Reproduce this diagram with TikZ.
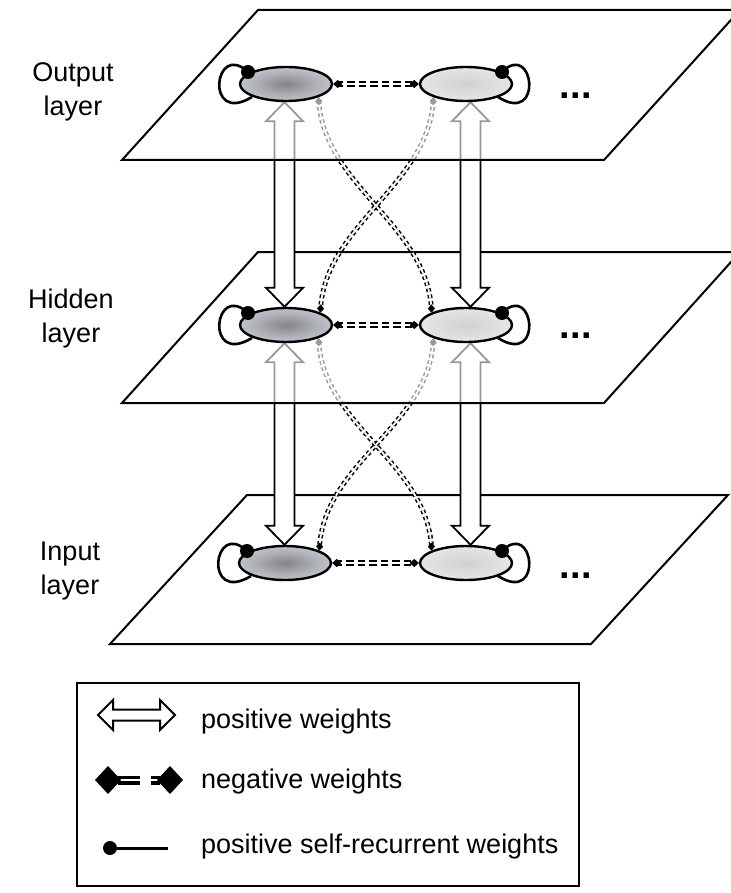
\documentclass[tikz,border=0pt]{standalone}
\usepackage{fontspec}
\setmainfont{Liberation Sans}
\usetikzlibrary{arrows.meta,calc,shapes.geometric}
\pgfdeclareradialshading{ballL}{\pgfpoint{0bp}{0bp}}{rgb(0bp)=(0.52,0.52,0.52); rgb(16bp)=(0.68,0.69,0.71); rgb(38bp)=(0.84,0.87,0.92); rgb(50bp)=(0.86,0.90,0.96)}
\pgfdeclareradialshading{ballR}{\pgfpoint{0bp}{0bp}}{rgb(0bp)=(0.82,0.82,0.82); rgb(25bp)=(0.90,0.90,0.90); rgb(50bp)=(0.97,0.97,0.97)}
\pgfdeclarelayer{pA}\pgfdeclarelayer{cA}\pgfdeclarelayer{pB}\pgfdeclarelayer{cB}\pgfdeclarelayer{pC}\pgfdeclarelayer{lp}
\pgfsetlayers{pA,cA,pB,cB,pC,lp,main}
% hollow double arrow between two nodes (vertical)
\newcommand\posarr[3]{\draw[posarrow] let \p1=($(#1.south)+(#3,0)$), \p2=(#2.north) in
  (\x1,\y1) -- ++(18.5,19) -- ++(-8.5,0) -- (\x1+10pt,\y2+19pt) -- ++(8.5,0) -- (\x1,\y2)
  -- ++(-18.5,-19) -- ++(8.5,0) -- (\x1-10pt,\y1-19pt) -- ++(-8.5,0) -- cycle;}
\newcommand\selfloopL[1]{\draw[loopln] ($(#1)+(-38,-12)$) .. controls ($(#1)+(-72,-44)$) and ($(#1)+(-82,42)$) .. ($(#1)+(-34,13)$);}
\newcommand\selfloopR[1]{\draw[loopln] ($(#1)+(36,-12)$) .. controls ($(#1)+(68,-44)$) and ($(#1)+(78,42)$) .. ($(#1)+(32,13)$);}
\newcommand\dotL[1]{\fill ($(#1)+(-38,-12)$) circle[radius=7pt];}
\newcommand\dotR[1]{\fill ($(#1)+(36,-12)$) circle[radius=7pt];}
\begin{document}
\begin{tikzpicture}[x=1pt,y=-1pt,
  neuron/.style={ellipse, draw, line width=2.4pt, minimum width=92pt, minimum height=34pt, inner sep=0pt},
  nL/.style={neuron, shading=ballL},
  nR/.style={neuron, shading=ballR},
  plane/.style={draw, line width=2pt, fill=white, line join=miter},
  veil/.style={plane, fill opacity=0.6},
  posarrow/.style={draw, line width=1.8pt, fill=white, line join=miter},
  negcross/.style={double=white, double distance=1.8pt, line width=1.5pt, dash pattern=on 3.5pt off 3pt,
     {Diamond[length=8pt,width=7pt,line width=0.4pt]}-{Diamond[length=8pt,width=7pt,line width=0.4pt]}},
  neghor/.style={double=white, double distance=2.2pt, line width=2.1pt, dash pattern=on 7.5pt off 4pt,
     {Diamond[length=9pt,width=8pt,line width=0.4pt]}-{Diamond[length=9pt,width=8pt,line width=0.4pt]}},
  loopln/.style={line width=2.6pt},
  lbl/.style={font=\fontsize{27}{30}\selectfont, anchor=base, inner sep=0pt},
  lgd/.style={font=\fontsize{27}{30}\selectfont, anchor=base west, inner sep=0pt},
  more/.style={font=\bfseries\fontsize{38}{40}\selectfont, anchor=base west, inner sep=0pt}
]
\useasboundingbox (0,0) rectangle (730,893);
\clip (0,0) rectangle (730,893);

% neurons
\node[nL] (o1) at (286,84) {};
\node[nR] (o2) at (466,84) {};
\node[nL] (h1) at (286,325) {};
\node[nR] (h2) at (466,325) {};
\node[nL] (i1) at (285,563) {};
\node[nR] (i2) at (466,563) {};

% planes and inter-layer connectors
\begin{pgfonlayer}{pA}
  \draw[plane] (247,495) -- (728,495) -- (591,644) -- (110,644) -- cycle;
\end{pgfonlayer}
\begin{pgfonlayer}{cA}
  \posarr{h1}{i1}{-1.5}
  \posarr{h2}{i2}{4.5}
  \draw[negcross] (h1.-22) .. controls +(5,88) and +(-5,-88) .. (i2.160);
  \draw[negcross] (h2.-158) .. controls +(-5,88) and +(5,-88) .. (i1.20);
\end{pgfonlayer}
\begin{pgfonlayer}{pB}
  \draw[veil] (258,252) -- (740,252) -- (604,403) -- (122,403) -- cycle;
\end{pgfonlayer}
\begin{pgfonlayer}{cB}
  \posarr{o1}{h1}{-1.5}
  \posarr{o2}{h2}{4.5}
  \draw[negcross] (o1.-22) .. controls +(5,88) and +(-5,-88) .. (h2.160);
  \draw[negcross] (o2.-158) .. controls +(-5,88) and +(5,-88) .. (h1.20);
\end{pgfonlayer}
\begin{pgfonlayer}{pC}
  \draw[veil] (258,10) -- (740,10) -- (604,160) -- (122,160) -- cycle;
\end{pgfonlayer}
\begin{pgfonlayer}{lp}
  \selfloopL{o1}\selfloopR{o2}
  \selfloopL{h1}\selfloopR{h2}
  \selfloopL{i1}\selfloopR{i2}
\end{pgfonlayer}

% dots of self-recurrent connections
\dotL{o1}\dotR{o2}\dotL{h1}\dotR{h2}\dotL{i1}\dotR{i2}

% lateral negative connections
\draw[neghor] (o1.east) -- (o2.west);
\draw[neghor] (h1.east) -- (h2.west);
\draw[neghor] (i1.east) -- (i2.west);

% ellipsis
\node[more] (m1) at (559.7,98.7) {...};
\node[more] (m2) at (559.7,338.7) {...};
\node[more] (m3) at (559.7,578.7) {...};

% layer labels
\node[lbl] (lo1) at (73,82) {Output};
\node[lbl] (lo2) at (73,116) {layer};
\node[lbl] (lh1) at (71,308) {Hidden};
\node[lbl] (lh2) at (71,342) {layer};
\node[lbl] (li1) at (70,560) {Input};
\node[lbl] (li2) at (70,594) {layer};

% legend
\draw[line width=1.8pt] (77,683) rectangle (579,886);
\draw[line width=2pt, line join=miter, fill=white] (98,715) -- (113,700) -- (113,709.5) -- (160,709.5) -- (160,700) -- (175,715)
  -- (160,730) -- (160,720.5) -- (113,720.5) -- (113,730) -- cycle;
\fill (95,780) -- (108,766) -- (121,780) -- (108,794) -- cycle;
\fill (157,780) -- (170,766) -- (183,780) -- (170,794) -- cycle;
\fill (118,775.5) rectangle (140,778.6);
\fill (118,781.4) rectangle (140,784.5);
\fill (151,775.5) rectangle (160,778.6);
\fill (151,781.4) rectangle (160,784.5);
\fill (110,848) circle[radius=7pt];
\draw[line width=3pt] (110,848) -- (168,848);
\node[lgd] (g1) at (201,728) {positive weights};
\node[lgd] (g2) at (201,788) {negative weights};
\node[lgd] (g3) at (201,853) {positive self-recurrent weights};
\end{tikzpicture}
\end{document}
